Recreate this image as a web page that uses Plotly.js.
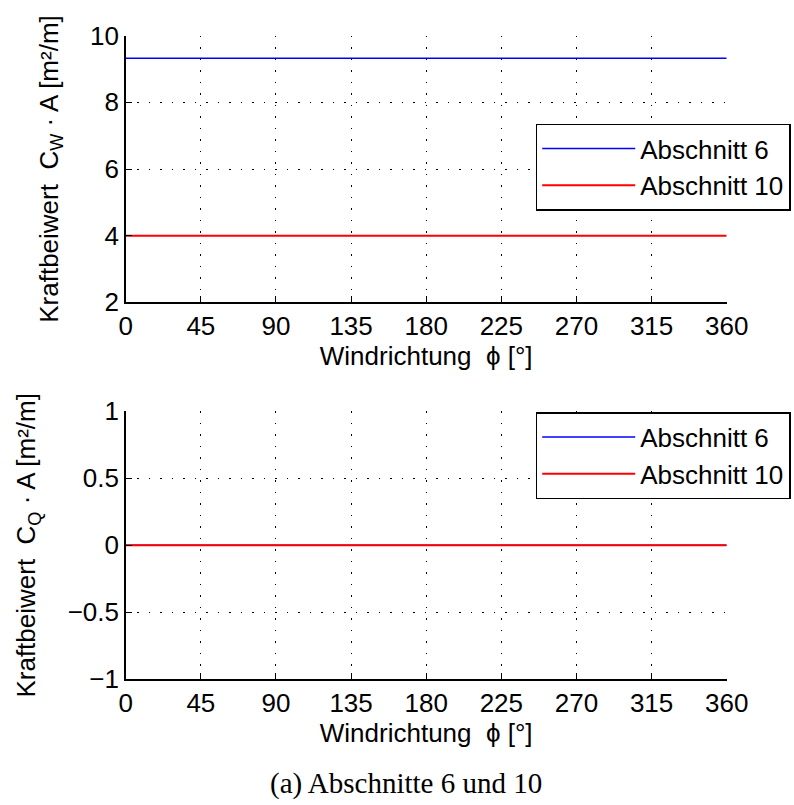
<!DOCTYPE html>
<html>
<head>
<meta charset="utf-8">
<script src="https://cdn.plot.ly/plotly-3.0.1.min.js"></script>
<style>html,body{margin:0;padding:0;background:#fff;}#chart{width:794px;height:805px;}</style>
</head>
<body>
<div id="chart"></div>
<script>
// Data
const phi = [0, 45, 90, 135, 180, 225, 270, 315, 360];
const cwA_abschnitt6  = [9.32, 9.32, 9.32, 9.32, 9.32, 9.32, 9.32, 9.32, 9.32];
const cwA_abschnitt10 = [4.0, 4.0, 4.0, 4.0, 4.0, 4.0, 4.0, 4.0, 4.0];
const cqA_abschnitt6  = [0, 0, 0, 0, 0, 0, 0, 0, 0];
const cqA_abschnitt10 = [0, 0, 0, 0, 0, 0, 0, 0, 0];
const xTicks = [0, 45, 90, 135, 180, 225, 270, 315, 360];
const yTicksTop = [2, 4, 6, 8, 10];
const yTicksBottom = [-1, -0.5, 0, 0.5, 1];
const seriesNames = ['Abschnitt 6', 'Abschnitt 10'];
const caption = '(a) Abschnitte 6 und 10';

const SANS = 'Liberation Sans, Arial, Helvetica, sans-serif';
const FS = 26;
const W = 794, H = 805;
const px = v => v / W;
const py = v => (H - v) / H;

const traces = [
  {x: phi, y: cwA_abschnitt6, name: seriesNames[0], mode: 'lines', line: {color: '#0000ff', width: 1.5}, xaxis: 'x', yaxis: 'y', legend: 'legend'},
  {x: phi, y: cwA_abschnitt10, name: seriesNames[1], mode: 'lines', line: {color: '#ff0000', width: 2}, xaxis: 'x', yaxis: 'y', legend: 'legend'},
  {x: phi, y: cqA_abschnitt6, name: seriesNames[0], mode: 'lines', line: {color: '#0000ff', width: 1.5}, xaxis: 'x2', yaxis: 'y2', legend: 'legend2'},
  {x: phi, y: cqA_abschnitt10, name: seriesNames[1], mode: 'lines', line: {color: '#ff0000', width: 2}, xaxis: 'x2', yaxis: 'y2', legend: 'legend2'}
];

const xAxisBase = {
  domain: [px(125.7), px(726.7)],
  range: [0, 360],
  tickvals: xTicks,
  ticktext: xTicks.map(String),
  ticks: 'inside', ticklen: 6, tickwidth: 1, tickcolor: '#000',
  showline: true, linecolor: '#000', linewidth: 1.5, mirror: false,
  showgrid: true, gridcolor: '#000', gridwidth: 1, griddash: '1.5px,10px',
  zeroline: false,
  tickfont: {family: SANS, size: FS, color: '#000'},
  title: {text: 'Windrichtung\u00a0\u00a0\u03d5 [°]', font: {family: SANS, size: FS, color: '#000'}, standoff: 7},
  automargin: false, fixedrange: true
};
const yAxisBase = {
  ticks: 'inside', ticklen: 6, tickwidth: 1, tickcolor: '#000',
  showline: true, linecolor: '#000', linewidth: 1.5, mirror: false,
  showgrid: true, gridcolor: '#000', gridwidth: 1, griddash: '1.5px,10px',
  zeroline: false,
  tickfont: {family: SANS, size: FS, color: '#000'},
  automargin: false, fixedrange: true
};

const layout = {
  width: W, height: H,
  margin: {l: 0, r: 0, t: 0, b: 0},
  paper_bgcolor: '#fff', plot_bgcolor: '#fff',
  showlegend: true,
  xaxis: Object.assign({}, xAxisBase, {anchor: 'y'}),
  yaxis: Object.assign({}, yAxisBase, {
    anchor: 'x',
    domain: [py(302.3), py(35.7)],
    range: [2, 10], tickvals: yTicksTop,
    title: {text: 'Kraftbeiwert\u00a0\u00a0C<sub>W</sub> · A [m²/m]', font: {family: SANS, size: FS, color: '#000'}, standoff: 24}
  }),
  xaxis2: Object.assign({}, xAxisBase, {anchor: 'y2'}),
  yaxis2: Object.assign({}, yAxisBase, {
    anchor: 'x2',
    domain: [py(679.3), py(411.3)],
    range: [-1, 1], tickvals: yTicksBottom,
    title: {text: 'Kraftbeiwert\u00a0\u00a0C<sub>Q</sub> · A [m²/m]', font: {family: SANS, size: FS, color: '#000'}, standoff: 24}
  }),
  legend: {
    x: px(535.7), y: py(123.5), xanchor: 'left', yanchor: 'top',
    bgcolor: '#fff', bordercolor: '#000', borderwidth: 1.5,
    font: {family: SANS, size: FS, color: '#000'},
    itemwidth: 93, tracegroupgap: 0
  },
  legend2: {
    x: px(535.7), y: py(412), xanchor: 'left', yanchor: 'top',
    bgcolor: '#fff', bordercolor: '#000', borderwidth: 1.5,
    font: {family: SANS, size: FS, color: '#000'},
    itemwidth: 93, tracegroupgap: 0
  },
  annotations: [{
    text: caption, xref: 'paper', yref: 'paper',
    x: px(406), y: py(783), xanchor: 'center', yanchor: 'middle',
    showarrow: false,
    font: {family: 'Liberation Serif, Times New Roman, serif', size: 29, color: '#000'}
  }]
};

Plotly.newPlot('chart', traces, layout, {displayModeBar: false, staticPlot: true});
</script>
</body>
</html>
